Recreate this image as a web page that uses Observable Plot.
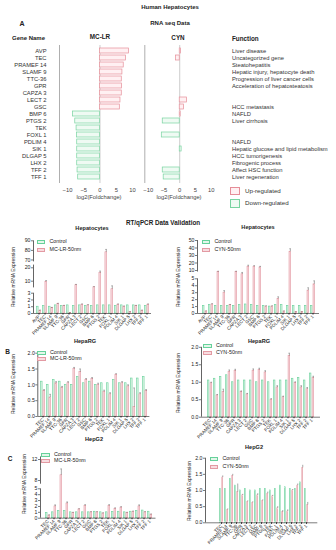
<!DOCTYPE html>
<html><head><meta charset="utf-8">
<script src="https://cdn.jsdelivr.net/npm/d3@7"></script>
<script src="https://cdn.jsdelivr.net/npm/@observablehq/plot@0.6"></script>
<style>
html,body{margin:0;padding:0;background:#fff;}
#fig{position:relative;width:336px;height:550px;overflow:hidden;background:#fff;font-family:"Liberation Sans",Arial,sans-serif;color:#222;}
#fig svg{position:absolute;left:0;top:0;background:transparent !important;overflow:visible;}
.t{position:absolute;white-space:nowrap;line-height:1;}
.b{position:absolute;box-sizing:border-box;}
</style></head><body><div id="fig"></div>
<script>
// ---------- DATA ----------
const genes = ["AVP","TEC","PRAMEF 14","SLAMF 9","TTC-36","GPR","CAPZA 3","LECT 2","GSC","BMP 6","PTGS 2","TEK","FOXL 1","PDLIM 4","SIK 1","DLGAP 5","LHX 2","TFF 2","TFF 1"];
const geneFunctions = ["Liver disease","Uncategorized gene","Steatohepatitis","Hepatic injury, hepatocyte death","Progression of liver cancer cells","Acceleration of hepatosteatosis","","","HCC metastasis","NAFLD","Liver cirrhosis","","","NAFLD","Hepatic glucose and lipid metabolism","HCC tumorigenesis","Fibrogenic process","Affect HSC function","Liver regeneration"];
const mclrLog2FC = [8.9,8.0,7.3,6.9,6.7,6.8,6.7,6.3,6.1,-8.3,-7.6,-7.2,-7.1,-7.0,-7.0,-7.0,-7.0,-6.9,-6.7];
const mclrRegulation = ["up","up","up","up","up","up","up","up","up","down","down","down","down","down","down","down","down","down","down"];
const cynLog2FC = [0.4,-1.2,0,0,0,0,0,2.3,1.4,0.3,-5.4,0,-5.7,0,0.6,0,0,-5.4,-5.1];
const cynRegulation = ["up","up","","","","","","up","up","up","down","","down","","down","","","down","down"];
const log2Ticks = [-10,-5,0,5,10];

const cellLineGenes = ["TEC","PRAMEF 14","SLAMF 9","TTC-36","GPR","CAPZA 3","LECT 2","GSC","BMP 6","PTGS 2","TEK","FOXL 1","PDLIM 4","SIK 1","DLGAP 5","LHX 2","TFF 2","TFF 1"];

// Hepatocytes, MC-LR
const hepMclrControl = [1.0,1.1,1.0,1.2,1.1,1.2,1.1,1.2,1.1,1.1,1.2,1.2,1.2,1.1,1.2,1.2,1.2,1.2,1.1];
const hepMclrTreated = [0.4,9.5,0.8,1.4,1.1,0.1,7,1.3,1.2,5.5,16,78,4.5,1.3,1.0,0.2,1.1,0.4,1.3];
const hepMclrError   = [0.1,1.0,0.1,0.1,0.1,0.05,0.6,0.1,0.1,0.4,1.5,3,2,0.1,0.1,0.05,0.1,0.1,0.1];
const hepMclrTicks = [0,1,2,3,10,20,70,80,90];
const hepMclrSegments = [[0,3],[5,22],[68,90]];
// Hepatocytes, CYN
const hepCynControl = [1.1,1.2,1.1,1.1,1.1,1.1,1.2,1.3,1.2,1.1,1.1,1.0,1.2,1.2,1.1,1.1,1.1,1.1,1.1];
const hepCynTreated = [0.3,1.3,8,3,1.2,8,7,15,15,14,1.0,1.0,2.1,0.3,35,0.2,0.2,3.3,4.2];
const hepCynError   = [0.05,0.1,1,0.3,0.1,1,0.8,2,1.5,1.5,0.1,0.1,0.3,0.05,4,0.05,0.05,0.4,0.5];
const hepCynTicks = [0,1,2,3,4,5,10,20,30,40,50];
const hepCynSegments = [[0,5],[8,50]];
// HepaRG, MC-LR
const rgMclrControl = [1.1,1.0,1.15,1.1,1.0,1.0,1.25,1.05,1.1,1.0,1.05,1.05,1.15,1.05,1.05,1.2,1.2,1.25];
const rgMclrTreated = [0.8,0.6,1.05,0.9,1.05,1.5,1.4,1.15,1.18,1.0,0.78,0.7,1.32,1.05,0.95,0.3,0.7,0.8];
const rgMclrError   = [0.05,0.1,0.05,0.05,0.05,0.05,0.1,0.05,0.05,0.05,0.05,0.05,0.03,0.05,0.05,0.6,0.05,0.05];
// HepaRG, CYN
const rgCynControl = [1.05,1.1,1.15,1.2,1.0,1.05,1.05,1.05,1.0,1.05,1.0,1.05,1.05,1.05,1.1,1.12,1.05,1.25];
const rgCynTreated = [0.97,0.62,0.72,1.3,1.32,0.72,0.65,1.33,1.35,1.28,0.5,0.85,0.57,1.75,0.98,0.85,0.8,1.12];
const rgCynError   = [0.03,0.03,0.08,0.05,0.05,0.03,0.03,0.05,0.05,0.05,0.03,0.05,0.03,0.08,0.03,0.05,0.05,0.05];
// HepG2, MC-LR
const g2MclrControl = [0.9,1.0,1.2,1.2,1.0,1.0,1.0,1.0,1.1,1.0,1.0,1.05,1.1,1.0,1.1,1.2,1.3,1.1];
const g2MclrTreated = [0.45,2.0,9.0,2.5,0.9,1.5,2.1,1.0,1.0,0.8,2.1,1.6,1.8,0.9,1.1,2.0,1.0,0.6];
const g2MclrError   = [0.1,0.25,1.2,0.25,0.1,0.1,0.2,0.1,0.1,0.1,0.2,0.15,0.15,0.1,0.1,0.25,0.1,0.1];
const g2MclrTicks = [0,1,2,3,4,5,8,12];
const g2MclrSegments = [[0,5],[7.3,12.5]];
// HepG2, CYN
const g2CynControl = [1.05,1.05,1.35,1.15,1.0,1.05,1.0,1.0,1.05,1.05,1.0,1.05,1.15,1.1,1.05,1.05,1.25,1.05];
const g2CynTreated = [1.4,0.4,1.45,0.95,0.85,0.65,0.62,0.85,0.68,0.9,0.82,0.45,0.33,0.35,1.0,1.15,1.7,0.55];
const g2CynError   = [0.05,0.03,0.05,0.25,0.03,0.03,0.03,0.05,0.03,0.05,0.03,0.05,0.05,0.05,0.03,0.05,0.08,0.08];
const unitTicks = [0,0.5,1,1.5,2];

// ---------- STYLE ----------
const W = 336, H = 550;
const FONT = '"Liberation Sans", Arial, sans-serif';
const upStroke = "#e58d98", upFill = "#fff0f2", downStroke = "#78d3a0", downFill = "#effaf3";
const ctrlStroke = "#66d19a", ctrlFill = "#e3f6ea", trtStroke = "#e39aa3", trtFill = "#f8dce0";
const fig = document.getElementById("fig");
const baseStyle = {background: "transparent", fontFamily: FONT, color: "#222", overflow: "visible"};

function label(text, x, y, {size = 6, weight = 400, anchor = "middle", rotate = 0, color = "#222"} = {}) {
  const d = document.createElement("div");
  d.className = "t";
  d.textContent = text;
  const tx = anchor === "start" ? 0 : anchor === "end" ? -100 : -50;
  d.style.cssText = `left:${x}px;top:${y}px;font-size:${size}px;font-weight:${weight};color:${color};transform:translate(${tx}%,-50%)${rotate ? ` rotate(${rotate}deg)` : ""};`;
  fig.appendChild(d);
}
function box(x, y, w, h, stroke, fill) {
  const d = document.createElement("div");
  d.className = "b";
  d.style.cssText = `left:${x}px;top:${y}px;width:${w}px;height:${h}px;border:0.8px solid ${stroke};background:${fill};`;
  fig.appendChild(d);
}

// ---------- PANEL A ----------
function rnaPanel(values, regulation, xDomain, xRange, showGenes, showFunctions) {
  const rows = genes.map((g, i) => ({g, v: values[i], r: regulation[i], f: geneFunctions[i]}));
  const up = rows.filter(d => d.r === "up" && d.v !== 0);
  const down = rows.filter(d => d.r === "down" && d.v !== 0);
  return Plot.plot({
    width: W, height: H,
    marginLeft: xRange[0], marginRight: W - xRange[1], marginTop: 45, marginBottom: H - 183,
    style: baseStyle,
    x: {domain: xDomain, range: xRange},
    y: {domain: genes, range: [45.5, 182.5], padding: 0.25, axis: showGenes ? undefined : null},
    marks: [
      Plot.ruleX([xDomain[0]], {stroke: "#9a9a9a", strokeWidth: 0.8}),
      Plot.ruleX([0], {stroke: "#aaa", strokeWidth: 0.6}),
      Plot.barX(up, {x1: 0, x2: "v", y: "g", fill: upFill, stroke: upStroke, strokeWidth: 0.7}),
      Plot.barX(down, {x1: 0, x2: "v", y: "g", fill: downFill, stroke: downStroke, strokeWidth: 0.7}),
      Plot.axisX({ticks: log2Ticks, tickSize: 0, tickPadding: 4, fontSize: 5.8, label: null, color: "#444"}),
      showGenes ? Plot.axisY({tickSize: 0, tickPadding: xRange[0] - 46, fontSize: 5.8, label: null, color: "#333"}) : null,
      showFunctions ? Plot.text(rows, {y: "g", text: "f", frameAnchor: "right", dx: 231.5 - xRange[1], textAnchor: "start", fontSize: 5.8, fill: "#333"}) : null
    ].filter(Boolean)
  });
}
fig.appendChild(rnaPanel(mclrLog2FC, mclrRegulation, [-12.45, 10], [59, 132], true, false));
fig.appendChild(rnaPanel(cynLog2FC, cynRegulation, [-11.1, 10], [144.3, 210.7], false, true));

// ---------- qPCR PANELS ----------
// yBreaks/yPix: the broken-axis pieces (value -> pixel); applied as a scale transform
function qpcrPlot({names, ctrl, trt, err, yBreaks, yPix, yTicks, segments, axisX, xRange, fmt}) {
  const rows = names.map((g, i) => ({g, c: ctrl[i], t: trt[i], e: err[i]}));
  const pi = 0.12, po = 0.06;
  const step = (xRange[1] - xRange[0]) / (names.length - pi + 2 * po);
  const bw = step * (1 - pi);
  const half = bw / 2;
  const top = Math.min(...yPix), base = Math.max(...yPix);
  const frameW = xRange[1] - axisX;
  const pinkCenter = (half + 0.2 + bw - 0.3) / 2 - bw / 2;
  const piece = d3.scaleLinear().domain(yBreaks).range(yPix.map(p => base - p));
  return Plot.plot({
    width: W, height: H,
    marginLeft: axisX, marginRight: W - xRange[1], marginTop: top, marginBottom: H - base,
    style: baseStyle,
    x: {domain: names, range: xRange, paddingInner: pi, paddingOuter: po},
    y: {transform: piece, domain: [0, base - top], range: [base, top], axis: null},
    marks: [
      Plot.barY(rows, {x: "g", y1: 0, y2: "c", fill: ctrlFill, stroke: ctrlStroke, strokeWidth: 0.6, insetLeft: 0.3, insetRight: half + 0.2}),
      Plot.barY(rows, {x: "g", y1: 0, y2: "t", fill: trtFill, stroke: trtStroke, strokeWidth: 0.6, insetLeft: half + 0.2, insetRight: 0.3}),
      Plot.ruleX(rows, {x: "g", y1: "t", y2: d => d.t + d.e, dx: pinkCenter, stroke: "#555", strokeWidth: 0.5}),
      Plot.tickY(rows, {x: "g", y: d => d.t + d.e, insetLeft: half + 0.6, insetRight: 0.7, stroke: "#555", strokeWidth: 0.5}),
      Plot.ruleY([0], {stroke: "#222", strokeWidth: 0.6}),
      Plot.ruleX(segments, {x: null, y1: s => s[0], y2: s => s[1], dx: -frameW / 2, stroke: "#222", strokeWidth: 0.7}),
      // y ticks and labels (through the same broken-axis transform)
      Plot.ruleY(yTicks, {y: d => d, dx: -2, insetRight: frameW - 2, stroke: "#222", strokeWidth: 0.6}),
      Plot.text(yTicks, {y: d => d, text: d => fmt(d), frameAnchor: "left", dx: -3, textAnchor: "end", fontSize: 5.2, fill: "#222"}),
      Plot.axisX({tickRotate: -45, tickSize: 1.5, tickPadding: 1, fontSize: 4.6, label: null})
    ]
  });
}
const f1 = d3.format(".1f"), f0 = d3.format("d");
fig.appendChild(qpcrPlot({names: genes, ctrl: hepMclrControl, trt: hepMclrTreated, err: hepMclrError,
  yBreaks: [0,3,5,22,68,90], yPix: [313,292.7,287.4,264.6,261.4,240.3], yTicks: hepMclrTicks, segments: hepMclrSegments,
  axisX: 33, xRange: [33.5,151], fmt: f0}));
fig.appendChild(qpcrPlot({names: genes, ctrl: hepCynControl, trt: hepCynTreated, err: hepCynError,
  yBreaks: [0,5,8,50], yPix: [313,278.3,271.5,240], yTicks: hepCynTicks, segments: hepCynSegments,
  axisX: 197, xRange: [197.5,319], fmt: f0}));
fig.appendChild(qpcrPlot({names: cellLineGenes, ctrl: rgMclrControl, trt: rgMclrTreated, err: rgMclrError,
  yBreaks: [0,2], yPix: [416,352.7], yTicks: unitTicks, segments: [[0,2]],
  axisX: 37.3, xRange: [38.2,149.4], fmt: f1}));
fig.appendChild(qpcrPlot({names: cellLineGenes, ctrl: rgCynControl, trt: rgCynTreated, err: rgCynError,
  yBreaks: [0,2], yPix: [416.7,346.8], yTicks: unitTicks, segments: [[0,2]],
  axisX: 201, xRange: [202,320], fmt: f1}));
fig.appendChild(qpcrPlot({names: cellLineGenes, ctrl: g2MclrControl, trt: g2MclrTreated, err: g2MclrError,
  yBreaks: [0,5,7.3,12.5], yPix: [517.7,488.3,483.7,456.4], yTicks: g2MclrTicks, segments: g2MclrSegments,
  axisX: 40, xRange: [41.5,155.5], fmt: f0}));
fig.appendChild(qpcrPlot({names: cellLineGenes, ctrl: g2CynControl, trt: g2CynTreated, err: g2CynError,
  yBreaks: [0,2], yPix: [522.3,457.7], yTicks: unitTicks, segments: [[0,2]],
  axisX: 205, xRange: [209.7,317.3], fmt: f1}));

// ---------- TEXT ----------
label("Human Hepatocytes", 170, 7, {size: 6, weight: 700});
label("A", 22, 23, {size: 7, weight: 700});
label("RNA seq Data", 170, 23, {size: 6, weight: 700});
label("Gene Name", 28.5, 38, {size: 6, weight: 700});
label("MC-LR", 100, 37, {size: 6.3, weight: 700});
label("CYN", 178, 38, {size: 6.3, weight: 700});
label("Function", 232, 39, {size: 6.3, weight: 700, anchor: "start"});
label("log2(Foldchange)", 99, 198, {size: 5.8, color: "#444"});
label("log2(Foldchange)", 179, 198, {size: 5.8, color: "#444"});
box(230, 186.5, 9.5, 8.5, upStroke, upFill);
label("Up-regulated", 245, 191, {size: 6.2, anchor: "start", color: "#333"});
box(230, 199, 9.5, 8.5, downStroke, downFill);
label("Down-regulated", 245, 203, {size: 6.2, anchor: "start", color: "#333"});

label("RT/qPCR Data Validation", 163, 222.7, {size: 6.3, weight: 700});
label("Hepatocytes", 92, 229, {size: 5.6, weight: 700});
label("Hepatocytes", 258, 228, {size: 5.6, weight: 700});
label("HepaRG", 85, 342, {size: 5.6, weight: 700});
label("HepaRG", 259, 342, {size: 5.6, weight: 700});
label("HepG2", 94, 440, {size: 5.6, weight: 700});
label("HepG2", 254, 448, {size: 5.6, weight: 700});
label("B", 7.5, 351.5, {size: 6.5, weight: 700});
label("C", 10, 459, {size: 6.5, weight: 700});

const yl = "Relative mRNA Expression";
label(yl, 13, 277, {size: 5, rotate: -90});
label(yl, 178, 277, {size: 5, rotate: -90});
label(yl, 13, 384, {size: 5, rotate: -90});
label(yl, 178, 383, {size: 5, rotate: -90});
label(yl, 24, 484, {size: 5, rotate: -90});
label(yl, 189, 491, {size: 5, rotate: -90});

function legend(x, y1, y2, name) {
  box(x, y1 - 2, 8.5, 4.2, ctrlStroke, ctrlFill);
  label("Control", x + 13, y1, {size: 5.3, anchor: "start"});
  box(x, y2 - 2, 8.5, 4.2, trtStroke, trtFill);
  label(name, x + 13, y2, {size: 5.3, anchor: "start"});
}
legend(36.5, 241.7, 249.7, "MC-LR-50nm");
legend(201.5, 241.5, 249.7, "CYN-50nm");
legend(37, 352.7, 359, "MC-LR-50nm");
legend(203, 345.8, 353, "CYN-50nm");
legend(41, 455, 461.3, "MC-LR-50nm");
legend(209.5, 459, 466.5, "CYN-50nm");
</script></body></html>
